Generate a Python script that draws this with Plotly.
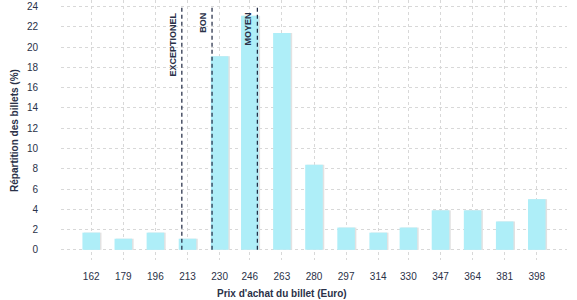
import plotly.graph_objects as go

prices = [162, 179, 196, 213, 230, 246, 263, 280, 297, 314, 330, 347, 364, 381, 398]
shares = [1.7, 1.1, 1.7, 1.1, 19.1, 23.1, 21.4, 8.4, 2.2, 1.7, 2.2, 3.9, 3.9, 2.8, 5.0]
ref_names = ["EXCEPTIONEL", "BON", "MOYEN"]
ref_prices = [210, 226, 250]
y_ticks = list(range(0, 25, 2))

FONT = "Liberation Sans, Arial, sans-serif"
DARK = "#2a3148"
GRID = "#d8d8d8"

fig = go.Figure()
# soft shadow behind bars
fig.add_trace(go.Bar(x=[p + 0.8 for p in prices], y=shares, width=9.3,
                     marker=dict(color="#e2e2e2", line=dict(width=0)),
                     hoverinfo="skip", showlegend=False))
fig.add_trace(go.Bar(x=prices, y=shares, width=9.3,
                     marker=dict(color="#aeeef8", line=dict(width=0)),
                     showlegend=False))

for name, p in zip(ref_names, ref_prices):
    fig.add_shape(type="line", xref="x", yref="y", x0=p, x1=p, y0=0, y1=24,
                  line=dict(color="#1d2640", width=1.2, dash="4px,3px"), layer="above")
    fig.add_annotation(x=p, y=24, xref="x", yref="y", text="<b>" + name + "</b>",
                       textangle=-90, showarrow=False, xanchor="right", yanchor="top",
                       xshift=-2, yshift=-4,
                       font=dict(family=FONT, size=9, color=DARK))

fig.add_annotation(x=0.437, y=-0.13, xref="paper", yref="paper",
                   text="<b>Prix d'achat du billet (Euro)</b>", showarrow=False,
                   xanchor="center", yanchor="middle",
                   font=dict(family=FONT, size=10, color=DARK))
fig.add_annotation(x=-0.093, y=0.5, xref="paper", yref="paper",
                   text="<b>Répartition des billets (%)</b>", showarrow=False,
                   textangle=-90, xanchor="center", yanchor="middle",
                   font=dict(family=FONT, size=10, color=DARK))

fig.update_layout(
    width=577, height=300,
    margin=dict(l=61, r=10, t=0, b=40),
    paper_bgcolor="white", plot_bgcolor="white",
    barmode="overlay",
    font=dict(family=FONT, size=10, color=DARK),
    xaxis=dict(range=[146, 414], tickvals=prices, ticktext=[str(p) for p in prices],
               showgrid=True, gridcolor=GRID, griddash="3px,3px", gridwidth=1,
               zeroline=False, showline=False,
               ticks="outside", ticklen=7, tickcolor="rgba(0,0,0,0)",
               tickfont=dict(family=FONT, size=10, color=DARK)),
    yaxis=dict(range=[-1, 24.65], tickvals=y_ticks,
               showgrid=True, gridcolor=GRID, griddash="3px,3px", gridwidth=1,
               zeroline=False, showline=False,
               ticks="outside", ticklen=20, tickcolor="rgba(0,0,0,0)",
               tickfont=dict(family=FONT, size=10, color=DARK)),
)

fig.write_html("out.html")
